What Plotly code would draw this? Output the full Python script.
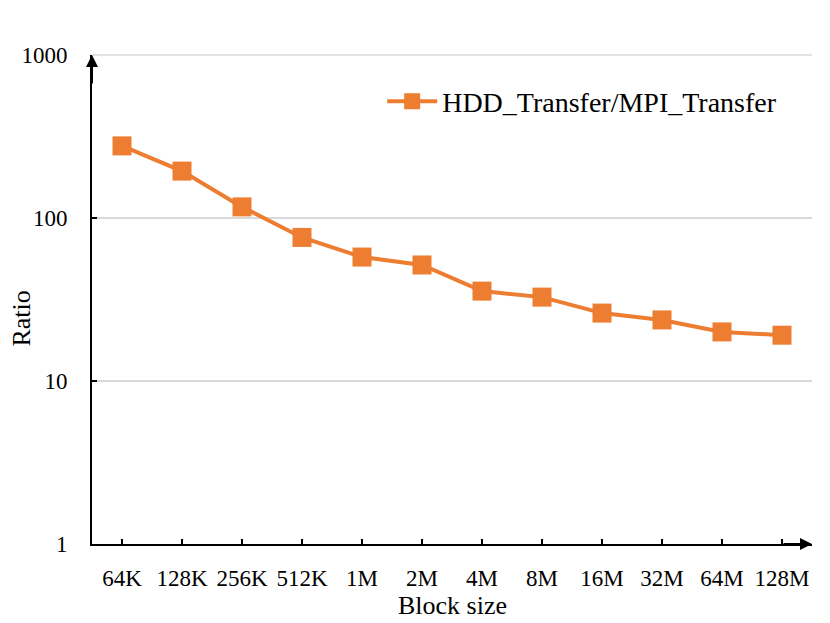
import plotly.graph_objects as go

categories = ["64K", "128K", "256K", "512K", "1M", "2M", "4M", "8M", "16M", "32M", "64M", "128M"]
ratio = [277, 194, 117, 76, 57.6, 51.5, 35.6, 32.7, 26.1, 23.7, 20.0, 19.1]
series_name = "HDD_Transfer/MPI_Transfer"
y_ticks = [1, 10, 100, 1000]
y_tick_labels = ["1", "10", "100", "1000"]

orange = "#ED7D31"
font_family = "Liberation Serif, Times New Roman, serif"

fig = go.Figure()
fig.add_trace(go.Scatter(
    x=categories, y=ratio, mode="lines+markers", name=series_name,
    line=dict(color=orange, width=4),
    marker=dict(symbol="square", size=19, color=orange),
))

fig.update_layout(
    width=822, height=615,
    margin=dict(l=84, r=18, t=47, b=79),
    paper_bgcolor="white", plot_bgcolor="white",
    font=dict(family=font_family, size=23, color="black"),
    showlegend=True,
    legend=dict(x=0.403, y=0.905, xanchor="left", yanchor="middle",
                bgcolor="rgba(0,0,0,0)", font=dict(size=28), itemwidth=50),
    xaxis=dict(
        type="category", range=[-0.5, 11.5],
        showgrid=False, showline=True, linecolor="black", linewidth=2,
        ticks="inside", ticklen=5, tickcolor="black", tickwidth=1.5,
        tickfont=dict(size=23), ticklabelstandoff=12,
        zeroline=False,
    ),
    yaxis=dict(
        type="log", range=[0, 3],
        tickvals=y_ticks, ticktext=y_tick_labels,
        showgrid=True, gridcolor="#d9d9d9", gridwidth=1.5,
        showline=True, linecolor="black", linewidth=2,
        ticks="inside", ticklen=5, tickcolor="black", tickwidth=1.5,
        tickfont=dict(size=23), ticklabelstandoff=18,
        zeroline=False,
    ),
)

# top gridline at 1000
fig.add_shape(type="line", xref="paper", yref="paper", x0=0, x1=1, y0=1, y1=1,
              line=dict(color="#d9d9d9", width=1.5), layer="below")

# axis arrowheads
fig.add_annotation(x=1.0, y=0, xref="paper", yref="paper", ax=-30, ay=0,
                   showarrow=True, arrowhead=2, arrowsize=1.2, arrowwidth=2,
                   arrowcolor="black", text="")
fig.add_annotation(x=0, y=1.0, xref="paper", yref="paper", ax=0, ay=30,
                   showarrow=True, arrowhead=2, arrowsize=1.2, arrowwidth=2,
                   arrowcolor="black", text="")

# axis titles
fig.add_annotation(x=0.5, y=-0.092, xref="paper", yref="paper",
                   text="Block size", showarrow=False,
                   xanchor="center", yanchor="top", font=dict(size=26))
fig.add_annotation(x=-0.098, y=0.462, xref="paper", yref="paper",
                   text="Ratio", showarrow=False, textangle=-90,
                   xanchor="center", yanchor="middle", font=dict(size=26))

fig.write_html("out.html")
